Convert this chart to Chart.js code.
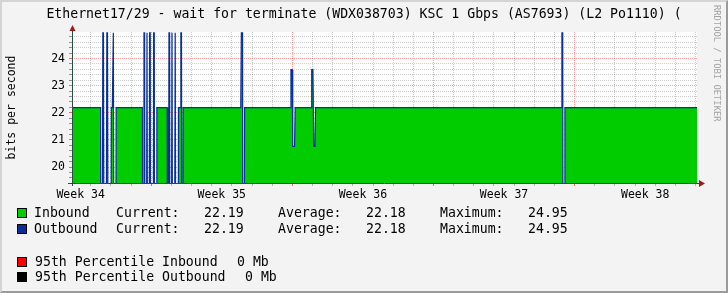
<!DOCTYPE html>
<html>
<head>
<meta charset="utf-8">
<script src="https://cdn.jsdelivr.net/npm/chart.js@4/dist/chart.umd.min.js"></script>
<style>
  body { margin: 0; background: #f3f3f3; font-family: 'DejaVu Sans Mono', monospace; }
  #frame { position: absolute; left: 0; top: 0; width: 728px; height: 293px; box-sizing: border-box;
           border-style: solid; border-width: 2px; border-color: #d4d4d4 #9a9a9a #9a9a9a #d4d4d4; background: #f3f3f3; }
  #graph { position: absolute; left: 0; top: 0; }
  .t { position: absolute; white-space: pre; font-size: 13.2px; line-height: 16px; color: #000; }
  .sq { position: absolute; width: 8px; height: 8px; border: 1px solid #000; }
  #title { left: 0; width: 728px; top: 6px; text-align: center; }
  #credit { position: absolute; left: 712px; top: 5px; writing-mode: vertical-rl; font-size: 8.8px; color: #a3a3a3; white-space: pre; }
</style>
</head>
<body>
<div id="frame"></div>
<canvas id="graph" width="728" height="293"></canvas>
<div id="title" class="t">Ethernet17/29 - wait for terminate (WDX038703) KSC 1 Gbps (AS7693) (L2 Po1110) (</div>
<div id="credit">RRDTOOL / TOBI OETIKER</div>
<div id="legend"></div>
<script>
// time in days from the left edge of the graph
const days = [0,
  1.42, 1.44, 1.53, 1.56, 1.63, 1.73, 1.76, 1.84, 1.92, 1.95, 2.00, 2.05, 2.08, 2.13, 2.19,
  3.49, 3.53, 3.57, 3.60, 3.65, 3.72, 3.75, 3.79, 3.85, 3.88, 3.92, 4.00, 4.05, 4.08, 4.12, 4.19, 4.21,
  4.72, 4.75, 4.81, 4.84, 4.88, 4.96, 4.99, 5.03, 5.12, 5.15, 5.19, 5.25, 5.28, 5.36, 5.40, 5.43, 5.47, 5.51,
  8.37, 8.40, 8.46, 8.49, 8.53, 8.56,
  10.83, 10.86, 10.92, 10.95, 11.04, 11.07,
  11.86, 11.89, 11.95, 11.99, 12.05, 12.08,
  24.27, 24.30, 24.34, 24.38, 24.42, 24.45,
  31];
const inbound = [22.19,
  22.19, 0, 24.95, 24.95, 0, 24.95, 24.95, 0, 0, 22.19, 22.19, 24.95, 24.95, 0, 22.19,
  22.19, 0, 24.95, 24.95, 0, 24.95, 24.95, 0, 24.95, 24.95, 0, 0, 24.95, 24.95, 0, 0, 22.19,
  22.19, 0, 24.95, 24.95, 0, 24.95, 24.95, 0, 24.95, 24.95, 0, 0, 22.19, 22.19, 24.95, 24.95, 0, 22.19,
  22.19, 24.95, 24.95, 0, 0, 22.19,
  22.19, 23.59, 23.59, 20.76, 20.76, 22.19,
  22.19, 23.59, 23.59, 20.76, 20.76, 22.19,
  22.19, 24.95, 24.95, 0, 0, 22.19,
  22.19];
const outbound = [22.19,
  22.19, 0, 24.95, 24.95, 0, 24.95, 24.95, 0, 0, 22.19, 22.19, 24.95, 24.95, 0, 22.19,
  22.19, 0, 24.95, 24.95, 0, 24.95, 24.95, 0, 24.95, 24.95, 0, 0, 24.95, 24.95, 0, 0, 22.19,
  22.19, 0, 24.95, 24.95, 0, 24.95, 24.95, 0, 24.95, 24.95, 0, 0, 22.19, 22.19, 24.95, 24.95, 0, 22.19,
  22.19, 24.95, 24.95, 0, 0, 22.19,
  22.19, 23.59, 23.59, 20.76, 20.76, 22.19,
  22.19, 23.59, 23.59, 20.76, 20.76, 22.19,
  22.19, 24.95, 24.95, 0, 0, 22.19,
  22.19];

const weekNames = ['Week 34', 'Week 35', 'Week 36', 'Week 37', 'Week 38'];
const weekStarts = [-3.07, 3.93, 10.93, 17.93, 24.93];
const yLabels = [20, 21, 22, 23, 24];

const seriesNames = ['Inbound', 'Outbound'];
const seriesColors = ['#00cc00', '#0a2d9c'];
const currentVals = ['22.19', '22.19'];
const averageVals = ['22.18', '22.18'];
const maximumVals = ['24.95', '24.95'];
const pctNames = ['95th Percentile Inbound', '95th Percentile Outbound'];
const pctColors = ['#ff0000', '#000000'];
const pctVals = ['0 Mb', '0 Mb'];

// legend (html text)
const legend = document.getElementById('legend');
function addText(txt, x, y) {
  const d = document.createElement('div');
  d.className = 't';
  d.textContent = txt;
  d.style.left = x + 'px';
  d.style.top = (y - 8) + 'px';
  legend.appendChild(d);
}
function addBox(color, x, y) {
  const d = document.createElement('div');
  d.className = 'sq';
  d.style.background = color;
  d.style.left = x + 'px';
  d.style.top = (y - 5) + 'px';
  legend.appendChild(d);
}
const cols = [34, 116, 204, 278, 366, 440, 528];
seriesNames.forEach((name, i) => {
  const y = 213 + i * 16;
  addBox(seriesColors[i], 17, y);
  const parts = [name, 'Current:', currentVals[i], 'Average:', averageVals[i], 'Maximum:', maximumVals[i]];
  parts.forEach((p, j) => addText(p, cols[j], y));
});
pctNames.forEach((name, i) => {
  const y = 262 + i * 15;
  addBox(pctColors[i], 17, y);
  addText(name, 35, y);
  addText(pctVals[i], i === 0 ? 237 : 245, y);
});

// x ticks: day lines, week lines and mid-week labels
const xTicks = [];
weekStarts.forEach((w, i) => {
  for (let d = 0; d < 7; d++) {
    const v = Math.round((w + d) * 100) / 100;
    if (v > 0 && v < 31) xTicks.push({ value: v, kind: d === 0 ? 'week' : 'day' });
  }
  xTicks.push({ value: w + 3.5, kind: 'label', text: weekNames[i] });
});
xTicks.sort((a, b) => a.value - b.value);

const yTicks = [];
for (let k = 98; k <= 124; k++) yTicks.push({ value: k / 5 });

const isInt = v => Math.abs(v - Math.round(v)) < 1e-6;
const gray = 'rgba(128,128,128,0.4)';
const red = 'rgba(255,0,0,0.38)';
const axisFont = { family: 'DejaVu Sans Mono', size: 11.5 };

const bgPlugin = {
  id: 'bg',
  beforeDraw(chart) {
    const a = chart.chartArea, ctx = chart.ctx;
    ctx.save();
    ctx.fillStyle = '#ffffff';
    ctx.fillRect(a.left, a.top, a.right - a.left, a.bottom - a.top);
    ctx.restore();
  },
  afterDraw(chart) {
    const a = chart.chartArea, ctx = chart.ctx;
    ctx.save();
    ctx.strokeStyle = '#2c4d43';
    ctx.lineWidth = 1;
    ctx.beginPath();
    ctx.moveTo(a.left - 4, a.bottom + 0.5);
    ctx.lineTo(a.right + 4, a.bottom + 0.5);
    ctx.moveTo(a.left + 0.5, a.bottom + 3);
    ctx.lineTo(a.left + 0.5, a.top - 3);
    ctx.stroke();
    ctx.fillStyle = '#9b1c1c';
    ctx.beginPath();
    ctx.moveTo(a.right + 2, a.bottom - 3);
    ctx.lineTo(a.right + 8, a.bottom + 0.5);
    ctx.lineTo(a.right + 2, a.bottom + 4);
    ctx.closePath();
    ctx.fill();
    ctx.beginPath();
    ctx.moveTo(a.left - 2.5, a.top - 1);
    ctx.lineTo(a.left + 0.5, a.top - 7);
    ctx.lineTo(a.left + 3.5, a.top - 1);
    ctx.closePath();
    ctx.fill();
    ctx.restore();
  }
};

new Chart(document.getElementById('graph').getContext('2d'), {
  type: 'line',
  data: {
    datasets: [{
      label: 'Outbound',
      data: days.map((d, i) => ({ x: d, y: outbound[i] })),
      borderColor: '#0a2d9c',
      borderWidth: 1.2,
      fill: false,
      pointRadius: 0,
      order: 0
    }, {
      label: 'Inbound',
      data: days.map((d, i) => ({ x: d, y: inbound[i] })),
      borderWidth: 0,
      borderColor: 'rgba(0,0,0,0)',
      backgroundColor: '#00cc00',
      fill: 'start',
      pointRadius: 0,
      order: 1
    }]
  },
  options: {
    responsive: false,
    animation: false,
    layout: { padding: { top: 32, right: 31, left: 0, bottom: 0 } },
    plugins: { legend: { display: false }, tooltip: { enabled: false } },
    elements: { line: { tension: 0 } },
    scales: {
      x: {
        type: 'linear',
        min: 0,
        max: 31,
        z: 1,
        afterFit(scale) { scale.height = 110; },
        afterBuildTicks(scale) { scale.ticks = xTicks.map(t => Object.assign({}, t)); },
        border: { display: false, dash: [1, 1] },
        grid: {
          color: c => c.tick.kind === 'label' ? 'rgba(0,0,0,0)' : (c.tick.kind === 'week' ? red : gray),
          tickColor: c => c.tick.kind === 'label' ? 'rgba(0,0,0,0)' : (c.tick.kind === 'week' ? '#ff6060' : '#b0b0b0'),
          tickLength: 3
        },
        ticks: {
          autoSkip: false,
          maxRotation: 0,
          minRotation: 0,
          padding: 2,
          color: '#000',
          font: axisFont,
          callback: (v, i, ticks) => ticks[i].kind === 'label' ? ticks[i].text : ''
        }
      },
      y: {
        min: 19.41,
        max: 24.98,
        z: 1,
        afterFit(scale) { scale.width = 72; },
        afterBuildTicks(scale) { scale.ticks = yTicks.map(t => Object.assign({}, t)); },
        border: { display: false, dash: [1, 1] },
        grid: {
          color: c => isInt(c.tick.value) ? red : gray,
          tickColor: c => isInt(c.tick.value) ? '#ff6060' : '#909090',
          tickLength: 3
        },
        ticks: {
          autoSkip: false,
          padding: 4,
          color: '#000',
          font: axisFont,
          callback: v => yLabels.find(l => isInt(v) && Math.round(v) === l) !== undefined ? String(Math.round(v)) : ''
        },
        title: {
          display: true,
          text: 'bits per second',
          color: '#000',
          font: axisFont,
          padding: { top: 5, bottom: 0 }
        }
      }
    }
  },
  plugins: [bgPlugin]
});
</script>
</body>
</html>
